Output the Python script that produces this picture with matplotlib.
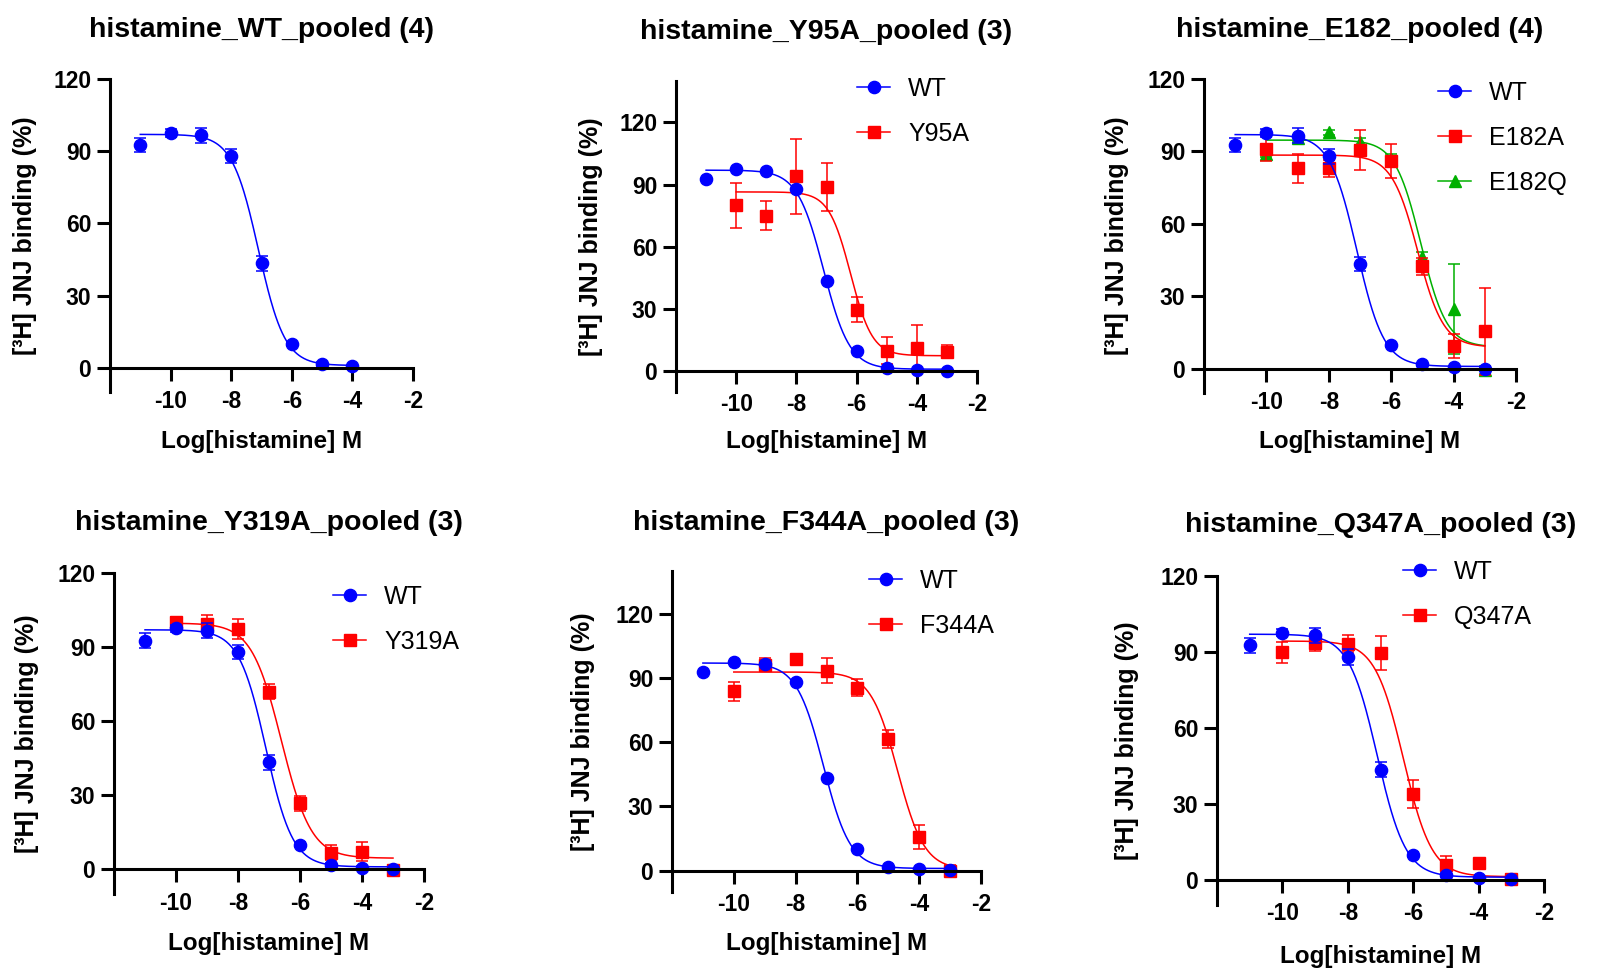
import matplotlib
matplotlib.use("Agg")
import matplotlib.pyplot as plt
from matplotlib.lines import Line2D
import numpy as np

plt.rcParams["font.family"] = ["Liberation Sans", "DejaVu Sans"]
plt.rcParams["font.weight"] = "bold"
plt.rcParams["axes.unicode_minus"] = False

# --- data ---
wt_x = [-11, -10, -9, -8, -7, -6, -5, -4, -3]
wt_y = [92.6, 97.6, 96.6, 88.0, 43.4, 9.9, 1.8, 0.7, 0.1]
wt_err = [3.0, 1.5, 3.0, 3.0, 3.0, 1.0, 0.8, 0.5, 0.3]

mut_x = [-10, -9, -8, -7, -6, -5, -4, -3]
y95a_y = [80.0, 75.0, 94.0, 89.0, 29.6, 10.0, 11.2, 9.5]
y95a_err = [11.0, 7.0, 18.0, 11.5, 6.0, 6.5, 11.0, 3.3]
e182a_y = [91.2, 83.0, 83.0, 90.5, 86.0, 42.5, 9.4, 15.5]
e182a_err = [5.0, 6.0, 3.5, 8.3, 7.0, 3.5, 5.0, 18.0]
e182q_y = [89.0, 95.5, 98.0, 94.0, 87.0, 46.5, 24.7, -0.5]
e182q_err = [1.5, 1.5, 1.0, 1.5, 2.0, 2.0, 18.6, 1.5]
y319a_y = [100.0, 99.5, 97.4, 72.0, 26.8, 6.8, 7.2, -0.3]
y319a_err = [2.0, 3.5, 4.0, 3.0, 3.0, 3.0, 4.0, 1.2]
f344a_y = [83.8, 96.3, 98.9, 93.5, 85.4, 61.5, 15.6, 0.0]
f344a_err = [4.5, 3.0, 1.5, 5.7, 4.0, 4.0, 5.7, 2.5]
q347a_y = [89.8, 93.5, 93.3, 89.6, 33.9, 5.7, 6.6, 0.2]
q347a_err = [4.2, 3.3, 3.3, 6.8, 5.5, 3.5, 1.2, 1.2]

# 4-parameter logistic fits: top, bottom, logIC50, hill
wt_fit = (97.0, 1.0, -7.1, 1.0)
y95a_fit = (86.5, 7.5, -6.2, 1.2)
e182a_fit = (88.5, 9.0, -5.15, 1.05)
e182q_fit = (94.7, 9.0, -5.05, 1.05)
y319a_fit = (99.7, 4.5, -6.6, 0.9)
f344a_fit = (92.8, 0.5, -4.7, 1.0)
q347a_fit = (94.3, 1.2, -6.3, 1.0)

BLUE, RED, GREEN = "#0000FF", "#FF0000", "#00B000"

panels = [
    dict(title="histamine_WT_pooled (4)", box=(110, 413, 79, 392), ytop=120,
         wt_n=8, wt_err=True, muts=[]),
    dict(title="histamine_Y95A_pooled (3)", box=(676, 977, 81, 392), ytop=140,
         wt_n=9, wt_err=False,
         muts=[("Y95A", y95a_y, y95a_err, y95a_fit, RED, "s")],
         leg=(857, 89)),
    dict(title="histamine_E182_pooled (4)", box=(1204, 1516, 79, 393), ytop=120,
         wt_n=9, wt_err=True,
         muts=[("E182Q", e182q_y, e182q_err, e182q_fit, GREEN, "^"),
               ("E182A", e182a_y, e182a_err, e182a_fit, RED, "s")],
         leg=(1438, 93), order=["WT", "E182A", "E182Q"]),
    dict(title="histamine_Y319A_pooled (3)", box=(114, 424, 573, 894), ytop=120,
         wt_n=9, wt_err=True,
         muts=[("Y319A", y319a_y, y319a_err, y319a_fit, RED, "s")],
         leg=(333, 597)),
    dict(title="histamine_F344A_pooled (3)", box=(672, 981, 571, 892), ytop=140,
         wt_n=9, wt_err=False,
         muts=[("F344A", f344a_y, f344a_err, f344a_fit, RED, "s")],
         leg=(869, 581)),
    dict(title="histamine_Q347A_pooled (3)", box=(1217, 1544, 576, 905), ytop=120,
         wt_n=9, wt_err=True,
         muts=[("Q347A", q347a_y, q347a_err, q347a_fit, RED, "s")],
         leg=(1403, 572)),
]
title_base = [37, 39, 37, 530, 530, 532]
xlabel_base = [448, 448, 448, 950, 950, 963]
ylabel_cx = [25, 591, 1117, 27, 583, 1127]

W, H = 1598, 969


def logistic(x, fit):
    top, bottom, logic50, hill = fit
    return bottom + (top - bottom) / (1 + 10 ** ((x - logic50) * hill))


fig = plt.figure(figsize=(W / 100, H / 100), dpi=100)

for i, p in enumerate(panels):
    L, R, T, B = p["box"]
    ax = fig.add_axes([L / W, 1 - B / H, (R - L) / W, (B - T) / H])
    ax.set_xlim(-12, -2)
    ax.set_ylim(-10, p["ytop"])
    ax.spines["bottom"].set_position(("data", 0))
    ax.spines["top"].set_visible(False)
    ax.spines["right"].set_visible(False)
    for s in ("left", "bottom"):
        ax.spines[s].set_linewidth(2.2)
    ax.set_xticks([-10, -8, -6, -4, -2])
    ax.set_yticks([0, 30, 60, 90, 120])
    ax.tick_params(axis="both", length=9.5, width=2.2, labelsize=16.5)
    ax.tick_params(axis="x", pad=6.5)
    ax.tick_params(axis="y", pad=4)

    handles = {}
    for name, ys, errs, fit, col, mk in p["muts"]:
        xs = np.linspace(mut_x[0], mut_x[-1], 300)
        ax.plot(xs, logistic(xs, fit), color=col, lw=1.1)
        ax.errorbar(mut_x, ys, yerr=errs, fmt="none", ecolor=col,
                    elinewidth=1.1, capsize=4.5, capthick=1.1)
        ax.plot(mut_x, ys, ls="none", marker=mk, ms=8.8, color=col)
        handles[name] = Line2D([], [], color=col, lw=1.1, marker=mk, ms=8.8)

    n = p["wt_n"]
    xs = np.linspace(wt_x[0], wt_x[n - 1], 300)
    ax.plot(xs, logistic(xs, wt_fit), color=BLUE, lw=1.1)
    if p["wt_err"]:
        ax.errorbar(wt_x[:n], wt_y[:n], yerr=wt_err[:n], fmt="none",
                    ecolor=BLUE, elinewidth=1.1, capsize=4.5, capthick=1.1)
    ax.plot(wt_x[:n], wt_y[:n], ls="none", marker="o", ms=8.8, color=BLUE)
    handles["WT"] = Line2D([], [], color=BLUE, lw=1.1, marker="o", ms=8.8)

    if p["muts"]:
        order = p.get("order", ["WT"] + [m[0] for m in p["muts"]])
        lx, ly = p["leg"]
        ax.legend([handles[k] for k in order], order,
                  loc="upper left", bbox_to_anchor=(lx / W, 1 - (ly - 12) / H),
                  bbox_transform=fig.transFigure, frameon=False,
                  prop=dict(family="Liberation Sans", weight="normal", size=18),
                  borderpad=0, borderaxespad=0, handlelength=1.33,
                  handletextpad=0.72, labelspacing=0.84)

    ax.set_xlabel("Log[histamine] M", fontsize=17.5, fontweight="bold", va="baseline")
    ax.xaxis.set_label_coords(0.5, (B - xlabel_base[i]) / (B - T))
    ax.set_ylabel("[³H] JNJ binding (%)", fontsize=18, fontweight="bold", va="center")
    ax.yaxis.set_label_coords((ylabel_cx[i] - L) / (R - L), 0.5)

    fig.text((L + R) / 2 / W, 1 - title_base[i] / H, p["title"], ha="center",
             va="baseline", fontsize=20.5, fontweight="bold")

fig.savefig("out.png", dpi=100)
